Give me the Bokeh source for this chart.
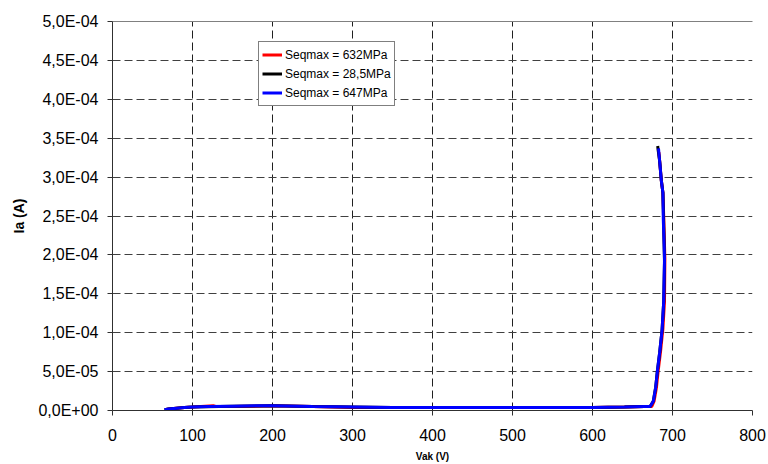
from bokeh.plotting import figure
from bokeh.models import FixedTicker, Legend, LegendItem, Range1d, LinearAxis
from bokeh.embed import file_html
from bokeh.resources import INLINE

# Series: Seqmax = 632MPa (red)
v_632 = [66, 70, 80, 90, 100, 126, 130, 150, 200, 250, 300, 350, 400, 450, 500, 550, 600, 640, 665, 674, 677, 680, 682, 685, 688, 690, 690.5, 689.5, 689, 688, 686, 684, 683]
i_632 = [1e-6, 2e-6, 3e-6, 4e-6, 4.5e-6, 6e-6, 5e-6, 5e-6, 6e-6, 5e-6, 4e-6, 4e-6, 4e-6, 4e-6, 4e-6, 4e-6, 4e-6, 4.5e-6, 5e-6, 5e-6, 1.2e-5, 3e-5, 5e-5, 7.5e-5, 1.05e-4, 1.4e-4, 1.95e-4, 2.3e-4, 2.5e-4, 2.8e-4, 2.96e-4, 3.2e-4, 3.32e-4]

# Series: Seqmax = 28,5MPa (black)
v_285 = [65, 70, 80, 90, 100, 150, 200, 250, 300, 350, 400, 450, 500, 550, 600, 640, 665, 672, 676, 679, 681, 684, 687, 689, 690, 689, 688, 686, 684, 682, 681.5]
i_285 = [1e-6, 2e-6, 3e-6, 4e-6, 4.5e-6, 5.5e-6, 6e-6, 5e-6, 4.5e-6, 4e-6, 4e-6, 4e-6, 4e-6, 4e-6, 4e-6, 4.5e-6, 5e-6, 5e-6, 1.2e-5, 3e-5, 5e-5, 7.5e-5, 1.04e-4, 1.4e-4, 1.9e-4, 2.4e-4, 2.8e-4, 2.96e-4, 3.2e-4, 3.35e-4, 3.4e-4]

# Series: Seqmax = 647MPa (blue)
v_647 = [65, 70, 80, 90, 100, 120, 150, 180, 200, 250, 300, 350, 400, 450, 500, 550, 600, 640, 665, 672, 676, 679, 681, 684, 687, 689, 690, 689, 688.5, 688, 686, 684, 682.5]
i_647 = [1e-6, 2e-6, 3e-6, 4e-6, 4.5e-6, 5e-6, 5.5e-6, 6e-6, 6e-6, 5e-6, 4.5e-6, 4e-6, 4e-6, 4e-6, 4e-6, 4e-6, 4e-6, 4.5e-6, 5e-6, 5e-6, 1.2e-5, 3e-5, 5e-5, 7.5e-5, 1.04e-4, 1.4e-4, 1.95e-4, 2.3e-4, 2.45e-4, 2.8e-4, 2.96e-4, 3.2e-4, 3.37e-4]

x_ticks = [0, 100, 200, 300, 400, 500, 600, 700, 800]
y_ticks = [0, 5e-5, 1e-4, 1.5e-4, 2e-4, 2.5e-4, 3e-4, 3.5e-4, 4e-4, 4.5e-4, 5e-4]
y_labels = ["0,0E+00", "5,0E-05", "1,0E-04", "1,5E-04", "2,0E-04", "2,5E-04",
            "3,0E-04", "3,5E-04", "4,0E-04", "4,5E-04", "5,0E-04"]

p = figure(width=768, height=464, output_backend="svg", toolbar_location=None,
           x_range=Range1d(0, 800), y_range=Range1d(0, 5e-4),
           min_border_left=112, min_border_right=16, min_border_top=21, min_border_bottom=53)
p.background_fill_color = "white"
p.border_fill_color = "white"
p.outline_line_color = None

font = "Liberation Sans"

for ax in (p.xaxis[0], p.yaxis[0]):
    ax.major_label_text_font = font
    ax.major_label_text_color = "black"
    ax.axis_label_text_font = font
    ax.axis_label_text_font_style = "bold"
    ax.axis_label_text_color = "black"
    ax.major_tick_in = 0
    ax.major_tick_out = 5
    ax.minor_tick_in = 0
    ax.minor_tick_out = 0
    ax.axis_line_color = "#303030"
    ax.major_tick_line_color = "#303030"

p.xaxis.ticker = FixedTicker(ticks=x_ticks)
p.yaxis.ticker = FixedTicker(ticks=y_ticks)
p.yaxis.major_label_overrides = {t: l for t, l in zip(y_ticks, y_labels)}
p.xaxis.major_label_overrides = {t: str(t) for t in x_ticks}
p.yaxis.major_label_text_font_size = "16px"
p.xaxis.major_label_text_font_size = "16px"
p.yaxis.major_label_standoff = 9
p.xaxis.major_label_standoff = 13
p.xaxis.axis_label = "Vak (V)"
p.xaxis.axis_label_text_font_size = "10px"
p.xaxis.axis_label_standoff = 7
p.yaxis.axis_label = "Ia (A)"
p.yaxis.axis_label_text_font_size = "14px"
p.yaxis.axis_label_standoff = 8

top_axis = LinearAxis(ticker=FixedTicker(ticks=[]), major_label_text_font_size="0px",
                      axis_line_color="#808080", major_tick_line_color=None,
                      minor_tick_line_color=None)
p.add_layout(top_axis, "above")

p.xgrid.grid_line_color = "#202020"
p.xgrid.grid_line_dash = "8 4"
p.xgrid.grid_line_width = 1
p.ygrid.grid_line_color = "#404040"
p.ygrid.grid_line_dash = "8 4"
p.ygrid.grid_line_width = 1

r_red = p.line(v_632, i_632, line_color="#ff0000", line_width=3)
r_black = p.line(v_285, i_285, line_color="black", line_width=3)
r_blue = p.line(v_647, i_647, line_color="#0000ff", line_width=3)

legend = Legend(items=[
    LegendItem(label="Seqmax = 632MPa", renderers=[r_red]),
    LegendItem(label="Seqmax = 28,5MPa", renderers=[r_black]),
    LegendItem(label="Seqmax = 647MPa", renderers=[r_blue]),
], location=(146, 304))
legend.label_text_font = font
legend.label_text_font_size = "12px"
legend.label_text_color = "black"
legend.border_line_color = "black"
legend.border_line_width = 1
legend.background_fill_color = "white"
legend.background_fill_alpha = 1
legend.padding = 3
legend.margin = 0
legend.spacing = 0
legend.label_standoff = 3
legend.glyph_width = 20
legend.glyph_height = 19
legend.label_height = 19
p.add_layout(legend, "center")

open("out.html", "w").write(file_html(p, INLINE))
